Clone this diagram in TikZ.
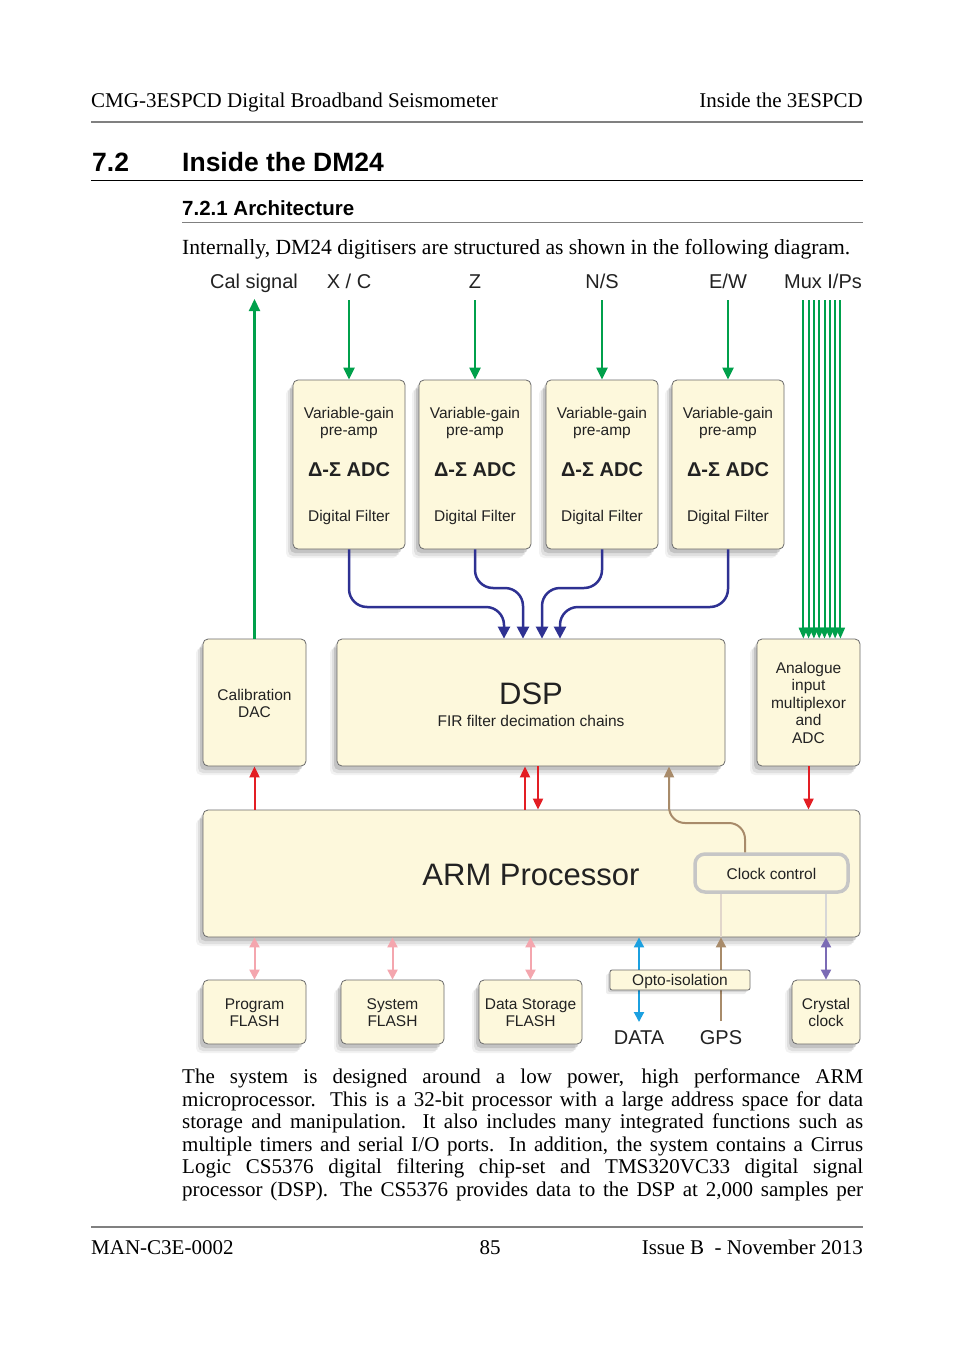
\documentclass[tikz,border=0pt]{standalone}
\usepackage{fontspec}
\setmainfont{Liberation Serif}
\setsansfont{Liberation Sans}
\usetikzlibrary{arrows.meta,shadows}
\definecolor{cream}{HTML}{FDF8DC}
\definecolor{boxline}{HTML}{6A6A6A}
\definecolor{dgreen}{HTML}{00A04B}
\definecolor{navy}{HTML}{2E3192}
\definecolor{dred}{HTML}{E31E24}
\definecolor{tan}{HTML}{A88B6A}
\definecolor{pinkish}{HTML}{F4A6AE}
\definecolor{cyanish}{HTML}{1BA0E0}
\definecolor{purp}{HTML}{7B6BB5}
\definecolor{clkgray}{HTML}{C6C6C6}
\definecolor{rulegray}{HTML}{808080}
\definecolor{ink}{HTML}{222222}
\newcommand\serifsz{\fontsize{21}{22.4}\selectfont}
\newcommand\lblsz{\fontsize{20}{24}\selectfont}
\newcommand\smsz{\fontsize{15.5}{18}\selectfont}
\newcommand\bigsz{\fontsize{31}{36}\selectfont}
\begin{document}
\begin{tikzpicture}[x=1pt,y=-1pt,
  softshadow/.style={
    drop shadow={shadow xshift=-7pt, shadow yshift=-9pt, opacity=0.05, fill=black},
    drop shadow={shadow xshift=-5pt, shadow yshift=-7pt, opacity=0.08, fill=black},
    drop shadow={shadow xshift=-3pt, shadow yshift=-4pt, opacity=0.12, fill=black}},
  blk/.style={draw=boxline, fill=cream, rounded corners=5pt, line width=0.8pt, inner sep=0pt, softshadow},
  txt/.style={inner sep=0pt, anchor=base, text=ink, font=\sffamily\smsz},
  lbl/.style={inner sep=0pt, anchor=base, text=ink, font=\sffamily\lblsz},
  ser/.style={inner sep=0pt, text=black, font=\serifsz},
  garrow/.style={draw=dgreen, line width=2.2pt, -{Triangle[width=11pt,length=12pt]}},
  barrow/.style={draw=navy, line width=2.5pt, rounded corners=18pt, -{Triangle[width=12pt,length=12pt]}},
  rarrow/.style={draw=dred, line width=2pt, -{Triangle[width=10pt,length=11pt]}},
  parrow/.style={draw=pinkish, line width=2pt, {Triangle[width=10pt,length=10pt]}-{Triangle[width=10pt,length=10pt]}}
]
\useasboundingbox[fill=white] (0,0) rectangle (954,1351);

% ---------- page header ----------
\node[ser, anchor=base west] (hl) at (91,108) {CMG-3ESPCD Digital Broadband Seismometer};
\node[ser, anchor=base east] (hr) at (863,108) {Inside the 3ESPCD};
\draw[rulegray, line width=1.5pt] (91,122) -- (863,122);
\node[inner sep=0pt, anchor=base west, font=\sffamily\bfseries\fontsize{26.5}{30}\selectfont] (secn) at (92,172) {7.2};
\node[inner sep=0pt, anchor=base west, font=\sffamily\bfseries\fontsize{26.5}{30}\selectfont] (sect) at (182,172) {Inside the DM24};
\draw[black, line width=1pt] (91,180.5) -- (863,180.5);
\node[inner sep=0pt, anchor=base west, font=\sffamily\bfseries\fontsize{20.5}{24}\selectfont] (subs) at (182,215) {7.2.1 Architecture};
\draw[rulegray, line width=1pt] (182,222.5) -- (863,222.5);
\node[ser, anchor=base west, font=\fontsize{21.6}{24}\selectfont] (intro) at (182,254) {Internally, DM24 digitisers are structured as shown in the following diagram.};

% ---------- top labels ----------
\node[lbl] (calsig) at (254,288) {Cal signal};
\node[lbl] (xc) at (349,288) {X / C};
\node[lbl] (zl) at (475,288) {Z};
\node[lbl] (nsl) at (602,288) {N/S};
\node[lbl] (ewl) at (728,288) {E/W};
\node[lbl] (muxl) at (823,288) {Mux I/Ps};

% ---------- ADC boxes ----------
\foreach \x/\n in {349/1,475/2,602/3,728/4}{
  \node[blk, minimum width=112pt, minimum height=169pt] (adc\n) at (\x,464.5) {};
  \node[txt] (adc\n a) at (\x,418) {Variable-gain};
  \node[txt] (adc\n b) at (\x,435) {pre-amp};
  \node[txt, font=\sffamily\bfseries\fontsize{20}{24}\selectfont] (adc\n c) at (\x,476.5) {Δ-Σ ADC};
  \node[txt] (adc\n d) at (\x,521) {Digital Filter};
  \draw[garrow] (\x,300) -- (adc\n.north);
}

% ---------- middle row ----------
\node[blk, minimum width=103pt, minimum height=127pt] (caldac) at (254.5,702.5) {};
\node[txt] (calt1) at (254.5,700) {Calibration};
\node[txt] (calt2) at (254.5,717.5) {DAC};

\node[blk, minimum width=388pt, minimum height=127pt] (dsp) at (531,702.5) {};
\node[txt, font=\sffamily\bigsz] (dspt) at (531,704) {DSP};
\node[txt] (dspf) at (531,726) {FIR filter decimation chains};

\node[blk, minimum width=103pt, minimum height=127pt] (mux) at (808.5,702.5) {};
\node[txt] (muxt1) at (808.5,673) {Analogue};
\node[txt] (muxt2) at (808.5,690.5) {input};
\node[txt] (muxt3) at (808.5,708) {multiplexor};
\node[txt] (muxt4) at (808.5,725.5) {and};
\node[txt] (muxt5) at (808.5,743) {ADC};

% green arrows
\draw[garrow] (caldac.north) -- (254.5,299);
\foreach \i in {0,...,7}{
  \pgfmathsetmacro\mx{803.3+5.3*\i}
  \draw[draw=dgreen, line width=2pt, -{Triangle[width=9pt,length=11pt]}] (\mx,300) -- (\mx,0 |- mux.north);
}

% blue connectors
\draw[barrow] (adc1.south) -- (349,607) -- (504,607) -- (504,0 |- dsp.north);
\draw[barrow] (adc2.south) -- (475,588) -- (523,588) -- (523,0 |- dsp.north);
\draw[barrow] (adc3.south) -- (602,588) -- (542,588) -- (542,0 |- dsp.north);
\draw[barrow] (adc4.south) -- (728,607) -- (560,607) -- (560,0 |- dsp.north);

% ---------- ARM ----------
\node[blk, minimum width=657pt, minimum height=127pt] (arm) at (531.5,873.5) {};
\node[txt, font=\sffamily\bigsz] (armt) at (531,885) {ARM Processor};
\node[draw=clkgray, line width=3.5pt, fill=cream, rounded corners=10pt, minimum width=153pt, minimum height=38pt, inner sep=0pt] (clk) at (771.5,873) {};
\node[txt] (clkt) at (771.5,879) {Clock control};
\draw[tan!35, line width=1.5pt] (721,0 |- clk.south) -- (721,0 |- arm.south);
\draw[clkgray!70, line width=1.5pt] (826,0 |- clk.south) -- (826,0 |- arm.south);

% red arrows
\draw[rarrow] (254.5,0 |- arm.north) -- (caldac.south);
\draw[rarrow] (525,0 |- arm.north) -- (525,0 |- dsp.south);
\draw[rarrow] (538,0 |- dsp.south) -- (538,0 |- arm.north);
\draw[rarrow] (mux.south) -- (808.5,0 |- arm.north);

% tan clock arrow
\draw[draw=tan, line width=2pt, rounded corners=16pt, -{Triangle[width=10pt,length=11pt]}] (745,0 |- clk.north) -- (745,823) -- (669,823) -- (669,0 |- dsp.south);

% ---------- bottom row ----------
\node[blk, minimum width=103pt, minimum height=64pt] (prog) at (254.5,1012) {};
\node[txt] (progt1) at (254.5,1009) {Program};
\node[txt] (progt2) at (254.5,1026.5) {FLASH};
\node[blk, minimum width=103pt, minimum height=64pt] (sysf) at (392.5,1012) {};
\node[txt] (syst1) at (392.5,1009) {System};
\node[txt] (syst2) at (392.5,1026.5) {FLASH};
\node[blk, minimum width=103pt, minimum height=64pt] (dataf) at (530.5,1012) {};
\node[txt] (datat1) at (530.5,1009) {Data Storage};
\node[txt] (datat2) at (530.5,1026.5) {FLASH};
\node[blk, minimum width=68pt, minimum height=64pt] (xtal) at (826,1012) {};
\node[txt] (xtalt1) at (826,1009) {Crystal};
\node[txt] (xtalt2) at (826,1026.5) {clock};

\draw[parrow] (arm.south -| prog.north) -- (prog.north);
\draw[parrow] (arm.south -| sysf.north) -- (sysf.north);
\draw[parrow] (arm.south -| dataf.north) -- (dataf.north);
\draw[draw=purp, line width=2pt, {Triangle[width=10pt,length=10pt]}-{Triangle[width=10pt,length=10pt]}] (arm.south -| xtal.north) -- (xtal.north);

\draw[draw=cyanish, line width=2pt, {Triangle[width=10pt,length=10pt]}-{Triangle[width=10pt,length=10pt]}] (639,0 |- arm.south) -- (639,1022);
\node[lbl] (datal) at (639,1044) {DATA};
\node[lbl] (gpsl) at (721,1044) {GPS};
\draw[draw=tan, line width=2pt, -{Triangle[width=10pt,length=10pt]}] (721,1021) -- (721,0 |- arm.south);
\node[draw=boxline, fill=cream, rounded corners=2pt, line width=0.8pt, inner sep=0pt, minimum width=140pt, minimum height=20pt,
  drop shadow={shadow xshift=-4pt, shadow yshift=-4pt, opacity=0.07, fill=black},
  drop shadow={shadow xshift=-2pt, shadow yshift=-2pt, opacity=0.1, fill=black}] (opto) at (680,980) {};
\node[txt] (optot) at (680,985) {Opto-isolation};

% ---------- body text ----------
\node[ser, anchor=base west] (p1) at (182,1083.5) {\makebox[681pt][s]{The system is designed around a low power, high performance ARM}};
\node[ser, anchor=base west] (p2) at (182,1106) {\makebox[681pt][s]{microprocessor.  This is a 32-bit processor with a large address space for data}};
\node[ser, anchor=base west] (p3) at (182,1128.5) {\makebox[681pt][s]{storage and manipulation.  It also includes many integrated functions such as}};
\node[ser, anchor=base west] (p4) at (182,1151) {\makebox[681pt][s]{multiple timers and serial I/O ports.  In addition, the system contains a Cirrus}};
\node[ser, anchor=base west] (p5) at (182,1173.5) {\makebox[681pt][s]{Logic CS5376 digital filtering chip-set and TMS320VC33 digital signal}};
\node[ser, anchor=base west] (p6) at (182,1196) {\makebox[681pt][s]{processor (DSP).\hspace{4pt} The CS5376 provides data to the DSP at 2,000 samples per}};

% ---------- footer ----------
\draw[rulegray, line width=1.5pt] (91,1227) -- (863,1227);
\node[ser, anchor=base west] (f1) at (91,1254) {MAN-C3E-0002};
\node[ser, anchor=base] (f2) at (490,1254) {85};
\node[ser, anchor=base east] (f3) at (863,1254) {Issue B\ \ - November 2013};
\end{tikzpicture}
\end{document}
